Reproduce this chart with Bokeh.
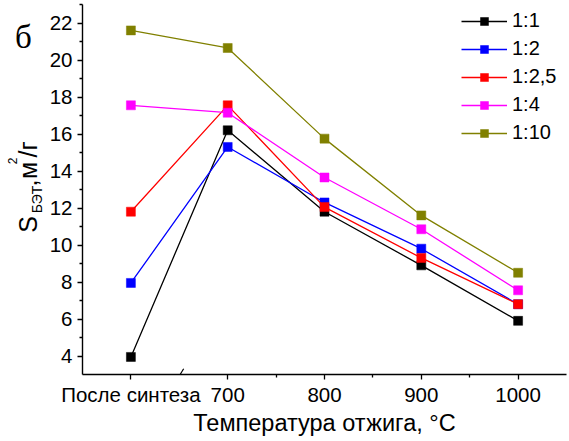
from bokeh.plotting import figure
from bokeh.layouts import row
from bokeh.models import FixedTicker, Range1d, Arrow
from bokeh.core.properties import value
from bokeh.embed import file_html
from bokeh.resources import INLINE
import math

# Annealing temperature (600 stands for the as-synthesised sample)
temps = [600, 700, 800, 900, 1000]
tick_labels = ["После синтеза", "700", "800", "900", "1000"]

# Specific surface area S_BET, m^2/g, per precursor ratio
s_1_1 = [3.95, 16.2, 11.8, 8.9, 5.9]
s_1_2 = [7.95, 15.3, 12.3, 9.8, 6.8]
s_1_25 = [11.8, 17.55, 12.05, 9.3, 6.8]
s_1_4 = [17.55, 17.15, 13.65, 10.85, 7.55]
s_1_10 = [21.6, 20.65, 15.75, 11.6, 8.5]

series_names = ["1:1", "1:2", "1:2,5", "1:4", "1:10"]
series_values = [s_1_1, s_1_2, s_1_25, s_1_4, s_1_10]
colors = ["#000000", "#0000FF", "#FF0000", "#FF00FF", "#808000"]

FONT = "Liberation Sans"
TOTAL_W, TOTAL_H = 569, 441
SIDE_W = 46
BORDER_TOP, BORDER_BOTTOM = 4, 67

# ---- narrow strip on the left: panel letter and the y axis title ----
# its frame lines up with the chart frame; y counts pixels from the top of the page
side = figure(width=SIDE_W, height=TOTAL_H, output_backend="svg", toolbar_location=None,
              x_range=Range1d(0, SIDE_W),
              y_range=Range1d(BORDER_BOTTOM, TOTAL_H - BORDER_TOP),
              x_axis_type=None, y_axis_type=None,
              min_border_left=0, min_border_right=0,
              min_border_top=BORDER_TOP, min_border_bottom=BORDER_BOTTOM)
side.outline_line_color = None
side.xgrid.visible = False
side.ygrid.visible = False

def vtext(text, cx, cy_from_top, size):
    # rotated piece, placed by its centre
    side.text(x=[cx], y=[TOTAL_H - cy_from_top], text=[text], angle=math.pi / 2,
              text_font=value(FONT), text_font_size=value(size), text_color="black",
              text_align="center", text_baseline="middle")

# S_БЭТ, м^2/г
vtext("S", 27.5, 224, "25px")
vtext("БЭТ", 36.7, 199, "14px")
vtext(",", 27.8, 182.5, "25px")
vtext("м", 27.5, 170, "25px")
vtext("2", 12, 160.5, "12px")
vtext("/г", 27.5, 149, "25px")

# panel letter
side.text(x=[23], y=[TOTAL_H - 36], text=["б"], text_font=value("Liberation Serif"),
          text_font_size=value("33px"), text_color="black",
          text_align="center", text_baseline="middle")

# ---- main chart ----
p = figure(width=TOTAL_W - SIDE_W, height=TOTAL_H, output_backend="svg", toolbar_location=None,
           x_range=Range1d(550, 1050), y_range=Range1d(3, 23),
           min_border_left=81 - SIDE_W, min_border_right=3,
           min_border_top=BORDER_TOP, min_border_bottom=BORDER_BOTTOM)
p.outline_line_color = None
p.xgrid.visible = False
p.ygrid.visible = False

for name, vals, col in zip(series_names, series_values, colors):
    p.line(temps, vals, line_color=col, line_width=1.3, legend_label=name)
    p.scatter(temps, vals, marker="square", size=9, fill_color=col,
              line_color=col, line_width=0.5, legend_label=name)

for ax in (p.xaxis[0], p.yaxis[0]):
    ax.axis_line_width = 1.4
    ax.axis_line_color = "black"
    ax.major_tick_line_color = "black"
    ax.minor_tick_line_color = "black"
    ax.major_tick_line_width = 1.3
    ax.minor_tick_line_width = 1.3
    ax.major_tick_in = 0
    ax.major_tick_out = 5
    ax.minor_tick_in = 0
    ax.minor_tick_out = 3
    ax.major_label_text_font = FONT
    ax.major_label_text_font_size = "20.5px"
    ax.major_label_text_color = "black"

p.xaxis.ticker = FixedTicker(ticks=temps, minor_ticks=[750, 850, 950])
p.xaxis.major_label_overrides = {t: lab for t, lab in zip(temps, tick_labels)}
p.xaxis.major_label_standoff = 3
p.xaxis.axis_label = "Температура отжига, °С"
p.xaxis.axis_label_text_font = FONT
p.xaxis.axis_label_text_font_size = "23.5px"
p.xaxis.axis_label_text_font_style = "normal"
p.xaxis.axis_label_text_color = "black"
p.xaxis.axis_label_standoff = 1

p.yaxis.ticker = FixedTicker(ticks=list(range(4, 23, 2)), minor_ticks=list(range(5, 24, 2)))
p.yaxis.major_label_standoff = 5

# axis break between the as-synthesised point and 700 °C
brk_x = (temps[0] + temps[1]) / 2
p.add_layout(Arrow(end=None, x_start=brk_x - 3.5, y_start=3 - 0.37,
                   x_end=brk_x + 4.5, y_end=3 + 0.31,
                   line_color="black", line_width=1.2))

leg = p.legend[0]
leg.location = (379, 230)
leg.border_line_alpha = 0
leg.background_fill_alpha = 0
leg.padding = 0
leg.margin = 0
leg.spacing = 5
leg.glyph_width = 46
leg.glyph_height = 20
leg.label_height = 20
leg.label_standoff = 5
leg.label_text_font = FONT
leg.label_text_font_size = "20px"
leg.label_text_color = "black"

layout = row(side, p, spacing=0)
open("out.html", "w").write(file_html(layout, INLINE))
